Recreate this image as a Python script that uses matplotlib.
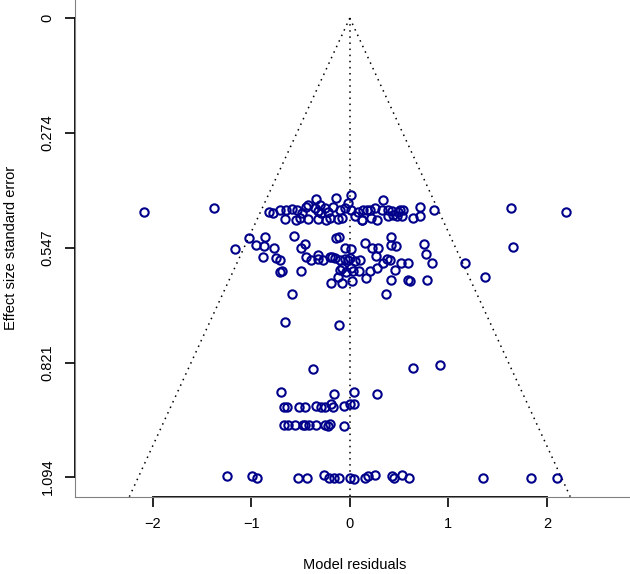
import numpy as np
import matplotlib.pyplot as plt

plt.rcParams['font.family'] = ['Liberation Sans', 'DejaVu Sans']

# residuals and standard errors
# top band (se ~ 0.42 - 0.48)
topResid = [-2.09, -1.374, 1.634, 2.193,
            -0.338, -0.135, 0.017, 0.338, -0.017, -0.423, -0.305,
            -0.819, -0.711, -0.582, -0.535, -0.440, -0.355, -0.322, -0.254, -0.220,
            -0.170, -0.102, -0.051, 0.017, 0.135, 0.170, 0.254, 0.322, 0.389, 0.508,
            0.535, 0.711, 0.856, -0.782, -0.650, -0.487, 0.081, 0.203, 0.426, 0.490,
            -0.660, -0.541, -0.508, -0.423, -0.322, -0.237, -0.196, -0.119, -0.084,
            0.051, 0.119, 0.220, 0.440, 0.474, 0.637, 0.711, -0.287, 0.119, 0.271,
            0.389, 0.525]
topSe = [0.463, 0.452, 0.452, 0.462,
         0.431, 0.430, 0.421, 0.434, 0.442, 0.446, 0.446,
         0.462, 0.458, 0.455, 0.458, 0.450, 0.453, 0.460, 0.452, 0.462,
         0.450, 0.458, 0.452, 0.458, 0.458, 0.458, 0.453, 0.458, 0.458, 0.458,
         0.458, 0.450, 0.458, 0.465, 0.458, 0.465, 0.462, 0.458, 0.460, 0.462,
         0.478, 0.481, 0.477, 0.479, 0.480, 0.481, 0.477, 0.480, 0.477,
         0.473, 0.481, 0.477, 0.469, 0.473, 0.476, 0.473, 0.465, 0.481, 0.481,
         0.473, 0.473]

# middle band (se ~ 0.52 - 0.66)
midResid = [-1.160, -1.025, -0.954, -0.856, -0.870, -0.880, -0.769, -0.744, -0.711, -0.711,
            -0.690, -0.565, -0.490, -0.457, -0.447, -0.490, -0.582, -0.389, -0.322, -0.322,
            -0.271, -0.203, -0.152, -0.135, -0.109, -0.051, -0.102, -0.017, -0.084, -0.119,
            -0.186, -0.084, -0.041, 0.017, 0.027, 0.051, 0.017, -0.176, -0.051, 0.000,
            0.102, -0.102, 0.034, 0.094, 0.152, 0.230, 0.287, 0.264, 0.162, 0.203,
            0.271, 0.338, 0.373, 0.406, 0.423, 0.423, 0.464, 0.457, 0.423, 0.515,
            0.586, 0.592, 0.609, 0.754, 0.772, 0.829, 0.779, 0.365, 1.168, 1.371,
            1.652]
midSe = [0.551, 0.524, 0.541, 0.521, 0.543, 0.569, 0.549, 0.573, 0.577, 0.605,
         0.603, 0.520, 0.547, 0.539, 0.569, 0.603, 0.658, 0.577, 0.575, 0.565,
         0.577, 0.569, 0.573, 0.525, 0.521, 0.549, 0.577, 0.577, 0.596, 0.617,
         0.632, 0.632, 0.605, 0.596, 0.627, 0.579, 0.551, 0.569, 0.575, 0.573,
         0.577, 0.601, 0.603, 0.603, 0.537, 0.549, 0.549, 0.567, 0.620, 0.603,
         0.596, 0.585, 0.575, 0.577, 0.521, 0.541, 0.543, 0.601, 0.624, 0.585,
         0.585, 0.624, 0.626, 0.539, 0.563, 0.585, 0.624, 0.658, 0.585, 0.618,
         0.546]

# lower points (se ~ 0.72 - 0.97)
lowResid = [-0.660, -0.109, -0.372, 0.643, 0.914,
            -0.694, -0.162, 0.041, 0.277,
            -0.670, -0.632, -0.518, -0.450, -0.338, -0.287, -0.247, -0.186, -0.170,
            -0.061, 0.000, 0.044,
            -0.667, -0.626, -0.558, -0.474, -0.457, -0.413, -0.345, -0.254, -0.226,
            -0.203, -0.058]
lowSe = [0.724, 0.732, 0.837, 0.835, 0.827,
         0.892, 0.896, 0.892, 0.896,
         0.926, 0.926, 0.926, 0.926, 0.925, 0.926, 0.926, 0.921, 0.926,
         0.925, 0.921, 0.920,
         0.970, 0.970, 0.970, 0.970, 0.970, 0.970, 0.970, 0.970, 0.973,
         0.967, 0.972]

# bottom row (se ~ 1.094)
botResid = [-1.242, -0.992, -0.941, -0.525, -0.434, -0.264, -0.210, -0.159, -0.112,
            0.000, 0.041, 0.152, 0.180, 0.254, 0.429, 0.450, 0.525, 0.602, 1.347,
            1.835, 2.098]
botSe = [1.092, 1.092, 1.097, 1.096, 1.097, 1.090, 1.096, 1.096, 1.096,
         1.097, 1.099, 1.096, 1.092, 1.090, 1.092, 1.097, 1.090, 1.097, 1.097,
         1.097, 1.096]

yTicks = [0, 0.274, 0.547, 0.821, 1.094]
yTickLabels = ["0", "0.274", "0.547", "0.821", "1.094"]
xTicks = [-2, -1, 0, 1, 2]

resid = topResid + midResid + lowResid + botResid
se = topSe + midSe + lowSe + botSe

yBottom = 1.1408
yTop = -0.043

fig = plt.figure(figsize=(6.3, 5.74), dpi=100)
ax = fig.add_axes([0.1186, 0.1347, 0.89, 0.8653])

# funnel and reference line
seLine = np.array([0, yBottom])
ax.plot(1.96 * seLine, seLine, color='black', lw=1.1, linestyle=(0, (1, 3)))
ax.plot(-1.96 * seLine, seLine, color='black', lw=1.1, linestyle=(0, (1, 3)))
ax.plot([0, 0], [0, yBottom], color='black', lw=1.1, linestyle=(0, (1, 3)))

ax.plot(resid, se, linestyle='none', marker='o', markersize=6, markeredgewidth=1.5,
        markerfacecolor='none', markeredgecolor='#00008B')

ax.set_xlim(-2.79, 2.897)
ax.set_ylim(yBottom, yTop)

ax.set_xticks(xTicks)
ax.set_yticks(yTicks)
ax.set_yticklabels(yTickLabels, rotation=90, va='center')
ax.tick_params(length=7.5, width=1.2, pad=7, labelsize=10.5, colors='black')

for side in ['top', 'right']:
  ax.spines[side].set_visible(False)
for side in ['left', 'bottom']:
  ax.spines[side].set_color('#808080')
  ax.spines[side].set_linewidth(0.8)

# R style axis lines between first and last tick
ax.plot([-2, 2], [0, 0], transform=ax.get_xaxis_transform(), color='black', lw=1.3, clip_on=False)
ax.plot([0, 0], [0, 1.094], transform=ax.get_yaxis_transform(), color='black', lw=1.3, clip_on=False)

ax.set_xlabel("Model residuals", fontsize=10.5)
ax.set_ylabel("Effect size standard error", fontsize=10.5)
ax.xaxis.set_label_coords(0.5, -0.123)
ax.yaxis.set_label_coords(-0.102, 0.5)

plt.savefig("out.png", dpi=100)
